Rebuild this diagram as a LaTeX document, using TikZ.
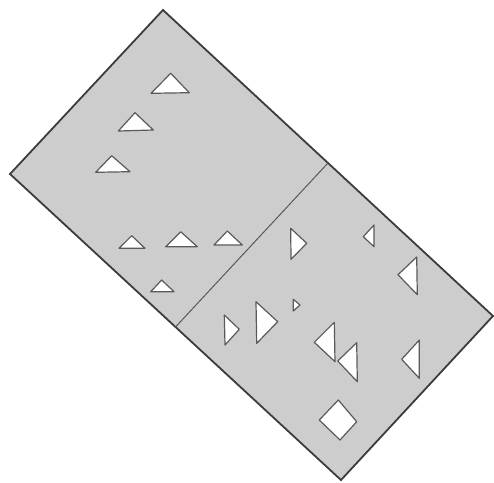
\documentclass[tikz,border=0pt]{standalone}
\usetikzlibrary{calc}
\definecolor{tilegray}{RGB}{205,205,205}
\definecolor{edgegray}{RGB}{60,60,60}
\definecolor{holeedge}{RGB}{90,90,90}
\begin{document}
\begin{tikzpicture}[x=1pt,y=-1pt,
  tile/.style={fill=tilegray,draw=edgegray,line width=1.8pt,line join=miter},
  divider/.style={draw=edgegray!85,line width=1pt},
  hole/.style={fill=white,draw=holeedge,line width=1.2pt,line join=round}]
\useasboundingbox (0,0) rectangle (494,482);
\coordinate (T) at (163,10);
\coordinate (R) at (493,316);
\coordinate (B) at (341,480);
\coordinate (L) at (10,174);
\coordinate (M1) at ($(T)!0.5!(R)$);
\coordinate (M2) at ($(L)!0.5!(B)$);
\draw[tile] (T) -- (R) -- (B) -- (L) -- cycle;
\draw[divider] (M1) -- (M2);
% upper square holes
\draw[hole] (170.7,73.3) -- (189.3,92.7) -- (151,93.3) -- cycle;
\draw[hole] (135,112.7) -- (153.3,130) -- (118.3,131) -- cycle;
\draw[hole] (111.7,155.7) -- (130,171.7) -- (95.7,172.3) -- cycle;
\draw[hole] (131.7,235.7) -- (145,248.3) -- (119,248.3) -- cycle;
\draw[hole] (180.7,231.7) -- (197.3,246.7) -- (165.7,246.7) -- cycle;
\draw[hole] (227.3,231) -- (242.3,245) -- (214,245) -- cycle;
\draw[hole] (161.7,280) -- (174,291.7) -- (150.7,291.7) -- cycle;
% lower square holes
\draw[hole] (290.7,228.3) -- (306.7,243.3) -- (291,259.3) -- cycle;
\draw[hole] (374,225) -- (374,246.7) -- (363.3,236.7) -- cycle;
\draw[hole] (416.7,257) -- (417.3,294.7) -- (398,274.7) -- cycle;
\draw[hole] (224.3,315) -- (239.3,329.3) -- (225,345) -- cycle;
\draw[hole] (256,301.7) -- (277.7,321.7) -- (256.7,343.3) -- cycle;
\draw[hole] (293.3,299.3) -- (300,305) -- (293.3,311) -- cycle;
\draw[hole] (334.3,322.3) -- (335,361.7) -- (314.3,342.3) -- cycle;
\draw[hole] (356.7,342.7) -- (357.3,381.7) -- (337.7,361) -- cycle;
\draw[hole] (419.3,340) -- (419.3,378.3) -- (401.7,359.3) -- cycle;
\draw[hole] (338.3,400) -- (356.7,421.7) -- (340,440) -- (319.3,420) -- cycle;
\end{tikzpicture}
\end{document}
